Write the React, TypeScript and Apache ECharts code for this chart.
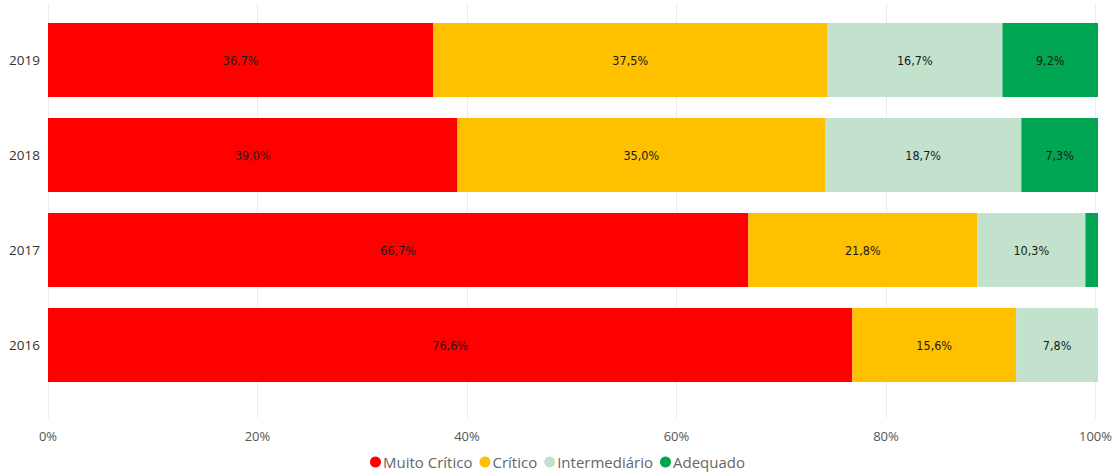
import React, { useEffect, useRef } from "react";
import * as echarts from "echarts";

const years = ["2016", "2017", "2018", "2019"];
const muitoCritico = [76.6, 66.7, 39.0, 36.7];
const critico = [15.6, 21.8, 35.0, 37.5];
const intermediario = [7.8, 10.3, 18.7, 16.7];
const adequado = [0, 1.2, 7.3, 9.2];
const xTicks = [0, 20, 40, 60, 80, 100];

const seriesDefs = [
  { name: "Muito Crítico", data: muitoCritico, color: "#FF0000" },
  { name: "Crítico", data: critico, color: "#FFC000" },
  { name: "Intermediário", data: intermediario, color: "#C2E2CD" },
  { name: "Adequado", data: adequado, color: "#00A651" },
];

export default function App() {
  const ref = useRef<HTMLDivElement>(null);
  useEffect(() => {
    if (!ref.current) return;
    const chart = echarts.init(ref.current, null, { renderer: "svg" });
    chart.setOption({
      animation: false,
      backgroundColor: "#ffffff",
      grid: [
        { left: 48, right: 17, top: 12.5, height: 380, containLabel: false },
        { left: 48, right: 17, top: 3, bottom: 55, containLabel: false },
      ],
      legend: {
        top: 453,
        left: "center",
        padding: 0,
        icon: "circle",
        itemWidth: 11,
        itemHeight: 11,
        itemGap: 7,
        textStyle: {
          color: "#666666",
          fontSize: 15,
          lineHeight: 18,
          fontFamily: "Open Sans",
          padding: [0, 0, 0, -3],
        },
        data: seriesDefs.map((s) => s.name),
      },
      xAxis: [
        { gridIndex: 0, type: "value", min: 0, max: 100, show: false },
        {
          gridIndex: 1,
          type: "value",
          min: xTicks[0],
          max: xTicks[xTicks.length - 1],
          interval: 20,
          axisLine: { show: false },
          axisTick: { show: false },
          splitLine: { show: true, lineStyle: { color: "#ececec", width: 1 } },
          axisLabel: {
            margin: 11,
            color: "#555555",
            fontSize: 13,
            fontFamily: "Open Sans",
            formatter: (v: number) => `${v}%`,
          },
        },
      ],
      yAxis: [
        {
          gridIndex: 0,
          type: "category",
          data: years,
          axisLine: { show: false },
          axisTick: { show: false },
          axisLabel: { margin: 8, color: "#333333", fontSize: 13.5, fontFamily: "Open Sans" },
        },
        { gridIndex: 1, type: "value", show: false },
      ],
      series: seriesDefs.map((s) => ({
        name: s.name,
        type: "bar",
        stack: "total",
        xAxisIndex: 0,
        yAxisIndex: 0,
        barWidth: 74,
        data: s.data,
        itemStyle: { color: s.color },
        label: {
          show: true,
          position: "inside",
          color: "#1a1a1a",
          fontSize: 12.5,
          fontFamily: "DejaVu Sans Condensed",
          formatter: (p: any) =>
            p.value >= 3 ? `${p.value.toFixed(1).replace(".", ",")}%` : "",
        },
      })),
    });
    return () => chart.dispose();
  }, []);
  return (
    <div
      ref={ref}
      style={{ position: "fixed", left: 0, top: 0, width: 1115, height: 473 }}
    />
  );
}
